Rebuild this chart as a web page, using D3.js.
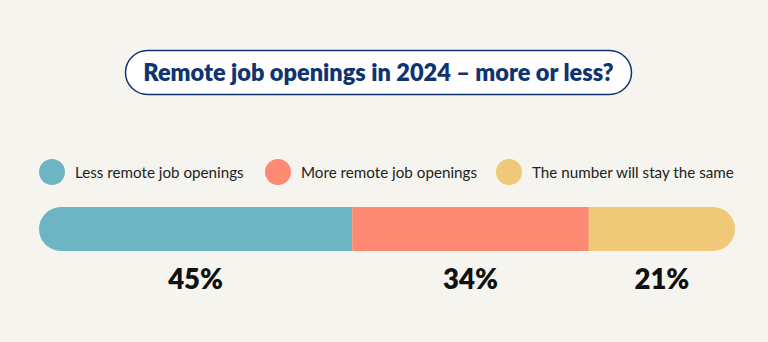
<!DOCTYPE html>
<html>
<head>
<meta charset="utf-8">
<script src="https://cdn.jsdelivr.net/npm/d3@7"></script>
<style>
  html, body { margin: 0; padding: 0; background: #f5f4ef; }
  svg { display: block; }
</style>
</head>
<body>
<svg id="chart" width="768" height="342"></svg>
<script>
// Survey answers: share of respondents per expectation
const categories = ["Less remote job openings", "More remote job openings", "The number will stay the same"];
const shares = [45, 34, 21];
const colors = ["#6db5c2", "#ff8a73", "#efc878"];
const titleText = "Remote job openings in 2024 \u2013 more or less?";

const W = 768, H = 342;
const svg = d3.select("#chart");

svg.append("rect").attr("width", W).attr("height", H).attr("fill", "#f5f4ef");

// Title inside a pill-shaped frame
const titleG = svg.append("g");
titleG.append("rect")
  .attr("x", 125.5).attr("y", 50.5)
  .attr("width", 506).attr("height", 44)
  .attr("rx", 22).attr("ry", 22)
  .attr("fill", "#ffffff")
  .attr("stroke", "#0f3470").attr("stroke-width", 1.5);
titleG.append("text")
  .attr("x", 378.5).attr("y", 81)
  .attr("text-anchor", "middle")
  .attr("font-family", "Lato, 'Noto Sans', sans-serif")
  .attr("font-weight", 800)
  .attr("font-size", 23.5)
  .attr("fill", "#0f3470")
  .text(titleText);

// Legend
const legendX = [52, 278, 509];
const legend = svg.append("g").selectAll("g")
  .data(categories)
  .join("g")
  .attr("transform", (d, i) => `translate(${legendX[i]},172)`);
legend.append("circle").attr("r", 13).attr("fill", (d, i) => colors[i]);
legend.append("text")
  .attr("x", 23).attr("y", 5.5)
  .attr("font-family", "Lato, 'Noto Sans', sans-serif")
  .attr("font-size", 15.2)
  .attr("fill", "#222")
  .text(d => d);

// Stacked bar with rounded outer ends
const x = d3.scaleLinear().domain([0, d3.sum(shares)]).range([39, 735]);
const barY = 207, barH = 44;
let acc = 0;
const segs = shares.map((v, i) => {
  const s = { v, i, x0: acc, x1: acc + v };
  acc += v;
  return s;
});

const defs = svg.append("defs");
defs.append("clipPath").attr("id", "barClip")
  .append("rect")
  .attr("x", x(0)).attr("y", barY)
  .attr("width", x(d3.sum(shares)) - x(0)).attr("height", barH)
  .attr("rx", barH / 2).attr("ry", barH / 2);

const barG = svg.append("g").attr("clip-path", "url(#barClip)");
barG.selectAll("rect")
  .data(segs)
  .join("rect")
  .attr("x", d => x(d.x0))
  .attr("y", barY)
  .attr("width", d => x(d.x1) - x(d.x0))
  .attr("height", barH)
  .attr("fill", d => colors[d.i]);

// Percentage labels under each segment
svg.append("g").selectAll("text")
  .data(segs)
  .join("text")
  .attr("x", d => (x(d.x0) + x(d.x1)) / 2)
  .attr("y", 289)
  .attr("text-anchor", "middle")
  .attr("font-family", "Lato, 'Noto Sans', sans-serif")
  .attr("font-weight", 800)
  .attr("font-size", 27.5)
  .attr("fill", "#111")
  .text(d => d.v + "%");
</script>
</body>
</html>
